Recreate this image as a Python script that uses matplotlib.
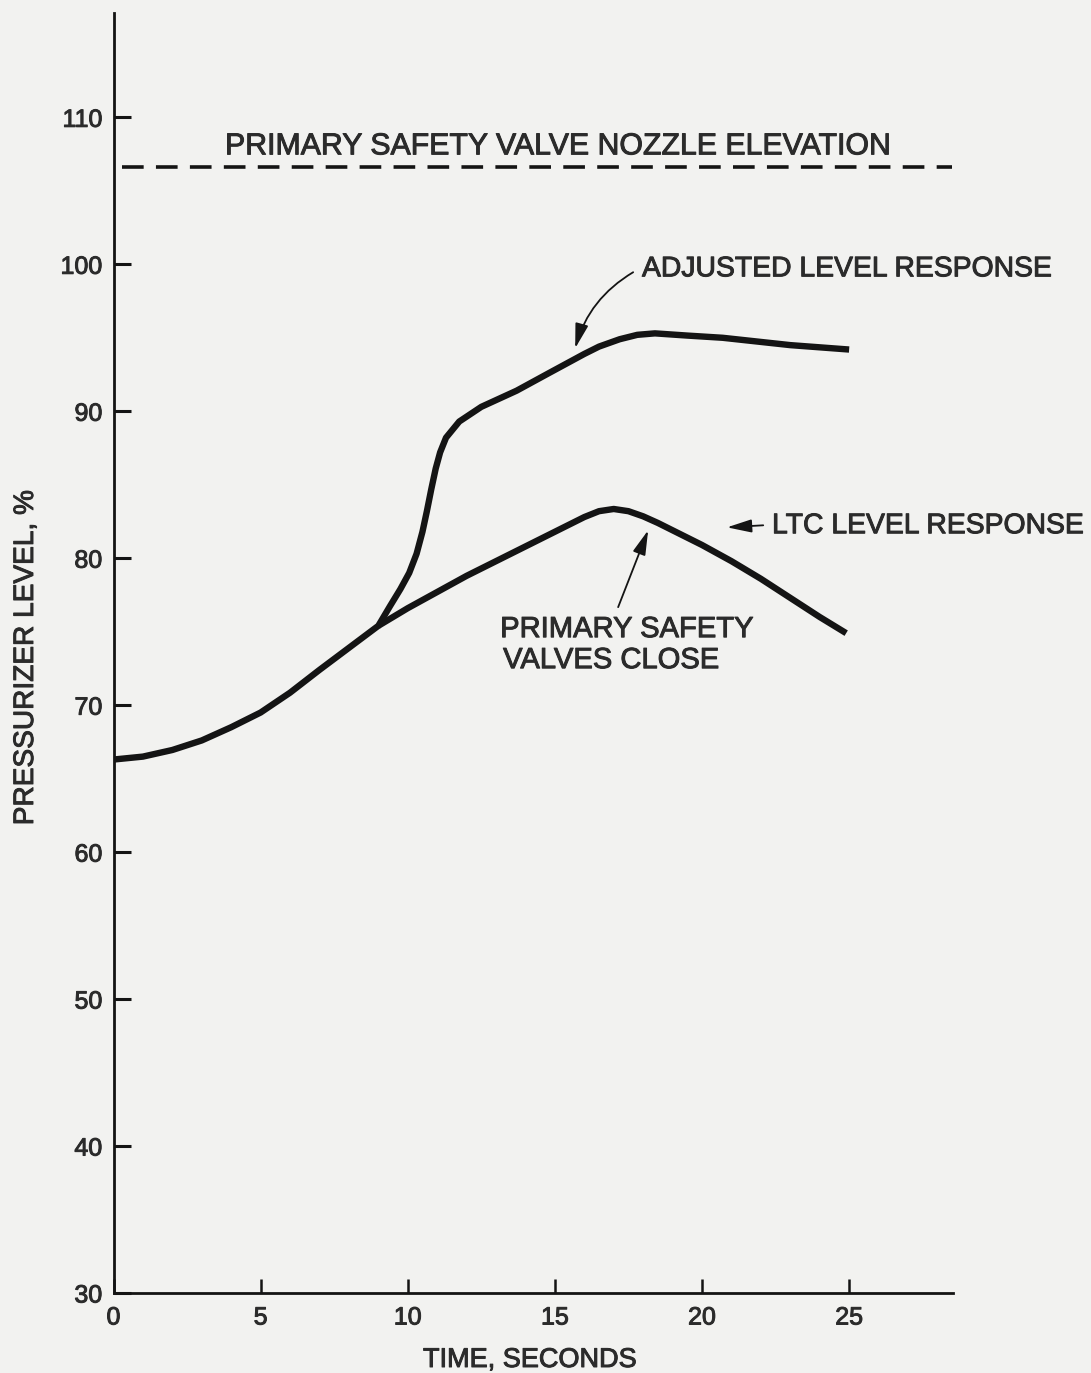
import matplotlib
matplotlib.use("Agg")
import matplotlib.pyplot as plt
import matplotlib.patheffects as pe

# Shared pressurizer level trace before the responses separate (time s, level %)
time_common = [0, 1, 2, 3, 4, 5, 6, 7, 8, 9]
level_common = [66.3, 66.5, 66.95, 67.6, 68.5, 69.5, 70.85, 72.4, 73.9, 75.4]

# Adjusted level response after the split
time_adjusted = [9.4, 9.75, 10.05, 10.3, 10.5, 10.65, 10.8, 10.95, 11.1, 11.3,
                 11.75, 12.5, 13.7, 14.8, 16.0, 16.5, 17.2, 17.8, 18.4, 19.5,
                 20.7, 23.0, 25.0]
level_adjusted = [76.75, 77.9, 79.0, 80.3, 81.8, 83.2, 84.7, 86.1, 87.2, 88.2,
                  89.3, 90.3, 91.4, 92.6, 93.9, 94.4, 94.9, 95.2, 95.3, 95.15,
                  95.0, 94.5, 94.2]

# LTC level response after the split
time_ltc = [10, 11, 12, 13, 14, 15, 16, 16.5, 17, 17.5, 18, 18.5, 19, 20, 21,
            22, 23, 24, 24.9]
level_ltc = [76.6, 77.7, 78.8, 79.8, 80.8, 81.8, 82.8, 83.2, 83.35, 83.2,
             82.85, 82.4, 81.9, 80.9, 79.8, 78.6, 77.3, 76.0, 74.9]

nozzle_level = 106.6
nozzle_span = [0.3, 28.5]

x_ticks = [0, 5, 10, 15, 20, 25]
y_ticks = [30, 40, 50, 60, 70, 80, 90, 100, 110]

plt.rcParams["font.family"] = ["Liberation Sans", "DejaVu Sans"]

BG = "#f2f2f0"
INK = "#141414"
TXT = "#2b2b2b"
heavy = [pe.withStroke(linewidth=0.7, foreground=TXT)]

W, H = 1091, 1373
fig = plt.figure(figsize=(W / 100, H / 100), dpi=100, facecolor=BG)
ax = fig.add_axes([113.5 / W, 80 / H, (953 - 113.5) / W, (1293 - 13) / H])
ax.set_facecolor(BG)
ax.set_xlim(0, 28.53)
ax.set_ylim(30, 117.1)

for side in ("top", "right"):
    ax.spines[side].set_visible(False)
for side in ("left", "bottom"):
    ax.spines[side].set_linewidth(2.0)
    ax.spines[side].set_color(INK)

ax.set_xticks(x_ticks)
ax.set_yticks(y_ticks)
ax.tick_params(axis="y", direction="in", length=12, width=2.2, color=INK,
               labelsize=18, labelcolor=TXT, pad=8)
ax.tick_params(axis="x", direction="in", length=10, width=1.8, color=INK,
               labelsize=18, labelcolor=TXT, pad=9)
for lbl in ax.get_xticklabels() + ax.get_yticklabels():
    lbl.set_path_effects(heavy)

curve_kw = dict(color=INK, lw=4.6, solid_capstyle="butt", solid_joinstyle="round")
ax.plot(time_common + time_adjusted, level_common + level_adjusted, **curve_kw)
ax.plot(time_common[-1:] + time_ltc, level_common[-1:] + level_ltc, **curve_kw)

# Nozzle elevation reference line
dash, = ax.plot(nozzle_span, [nozzle_level, nozzle_level], color=INK, lw=2.6)
dash.set_dashes((6.0, 3.4))
dash.set_dash_capstyle("butt")

txt_kw = dict(color=TXT, va="baseline", ha="left", path_effects=heavy)
ax.text(3.79, 107.48, "PRIMARY SAFETY VALVE NOZZLE ELEVATION", fontsize=21.8,
        **txt_kw)
ax.text(17.96, 99.18, "ADJUSTED LEVEL RESPONSE", fontsize=20.4, **txt_kw)
ax.text(22.38, 81.7, "LTC LEVEL RESPONSE", fontsize=20.4, **txt_kw)
ax.text(13.14, 74.63, "PRIMARY SAFETY", fontsize=21, **txt_kw)
ax.text(13.24, 72.52, "VALVES CLOSE", fontsize=21, **txt_kw)

head = "-|>,head_length=0.75,head_width=0.2"
arrow_kw = dict(color=INK, lw=1.3, shrinkA=0, shrinkB=0, mutation_scale=20)
ax.annotate("", xy=(15.69, 94.29), xytext=(17.66, 99.46),
            arrowprops=dict(arrowstyle=head, connectionstyle="arc3,rad=0.2",
                            **arrow_kw))
ax.annotate("", xy=(20.85, 82.1), xytext=(22.08, 82.24),
            arrowprops=dict(arrowstyle=head, **arrow_kw))
ax.annotate("", xy=(18.17, 81.9), xytext=(17.15, 76.67),
            arrowprops=dict(arrowstyle=head, **arrow_kw))

fig.text(530 / W, 1 - 1367 / H, "TIME, SECONDS", fontsize=19.5, color=TXT,
         ha="center", va="baseline", path_effects=heavy)
fig.text(33 / W, 1 - 658.5 / H, "PRESSURIZER LEVEL, %", fontsize=20.2,
         color=TXT, ha="center", va="baseline", rotation=90,
         rotation_mode="anchor", path_effects=heavy)

fig.savefig("out.png", dpi=100, facecolor=BG)
